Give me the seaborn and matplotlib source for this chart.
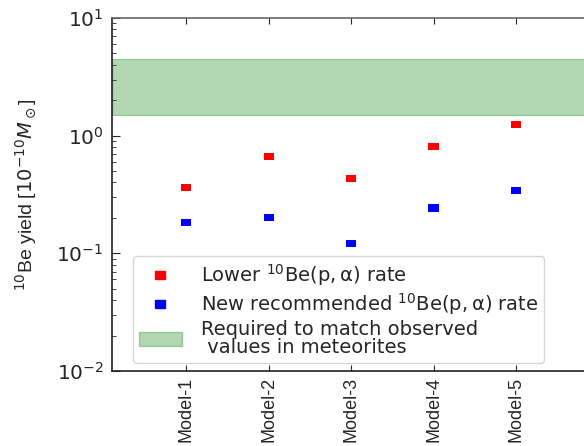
import numpy as np
import pandas as pd
import matplotlib
matplotlib.use("Agg")
import matplotlib.pyplot as plt
import seaborn as sns
from matplotlib.lines import Line2D
from matplotlib.patches import Patch

models = ["Model-1", "Model-2", "Model-3", "Model-4", "Model-5"]
lower_rate = [0.364, 0.663, 0.431, 0.806, 1.24]
new_rate = [0.182, 0.202, 0.121, 0.243, 0.343]
band_low, band_high = 1.5, 4.5
series_names = [r"Lower $^{10}$Be$(\rm p, \alpha)$ rate",
                r"New recommended $^{10}$Be$(\rm p, \alpha)$ rate"]
band_label = "Required to match observed\n values in meteorites"

sns.set_style("white")
plt.rcParams['font.family'] = ['DejaVu Sans']

df = pd.DataFrame({
    "x": list(range(len(models))) * 2,
    "y": lower_rate + new_rate,
    "series": [series_names[0]] * len(models) + [series_names[1]] * len(models),
})

fig = plt.figure(figsize=(5.84, 4.46), dpi=100)
ax = fig.add_axes([112/584, 1-371/446, 503/584, (371-18)/446])

rect = [(-1, -0.7), (1, -0.7), (1, 0.7), (-1, 0.7), (-1, -0.7)]
ax.axhspan(band_low, band_high, facecolor="green", edgecolor="green", alpha=0.3, lw=1)
sns.scatterplot(data=df, x="x", y="y", hue="series",
                palette=["red", "blue"], marker=rect, s=55, linewidth=0,
                legend=False, ax=ax, zorder=3)

ax.set_yscale("log")
ax.set_ylim(1e-2, 1e1)
ax.set_xlim(-0.9, 5.2)
ax.set_xticks(range(len(models)))
ax.set_xticklabels(models, rotation=90, fontsize=13, family="Liberation Sans")
ax.set_xlabel("")
ax.set_ylabel(r"$^{10}$Be yield [$10^{-10} M_\odot$]", fontsize=14, family="Liberation Sans")
ax.yaxis.set_label_coords(-0.145, 0.5)

ax.tick_params(axis="y", which="major", direction="in", length=6, labelsize=14.5, left=True, pad=6)
ax.tick_params(axis="y", which="minor", direction="in", length=3, left=True)
ax.tick_params(axis="x", which="major", direction="in", length=4, bottom=True, top=True, pad=4)
ax.yaxis.set_minor_locator(matplotlib.ticker.LogLocator(base=10, subs=np.arange(2, 10)))

for s in ["left", "bottom"]:
    ax.spines[s].set_color("#222222")
    ax.spines[s].set_linewidth(1.2)
ax.spines["top"].set_color("#666666")
ax.spines["top"].set_linewidth(1.2)
ax.spines["right"].set_visible(False)

handles = [
    Line2D([], [], marker=rect, color="red", linestyle="none", markersize=7.5),
    Line2D([], [], marker=rect, color="blue", linestyle="none", markersize=7.5),
    Patch(facecolor="green", edgecolor="green", alpha=0.3),
]
leg = ax.legend(handles, series_names + [band_label], loc="lower left",
                bbox_to_anchor=(133/584, 1-363/446), bbox_transform=fig.transFigure,
                borderaxespad=0, fontsize=14, frameon=True, fancybox=True,
                borderpad=0.3, handlelength=2.2, handletextpad=1.0, labelspacing=0.15)
for t in leg.get_texts():
    t.set_linespacing(0.95)
leg.get_frame().set_edgecolor("#cccccc")

fig.savefig("out.png", dpi=100)
